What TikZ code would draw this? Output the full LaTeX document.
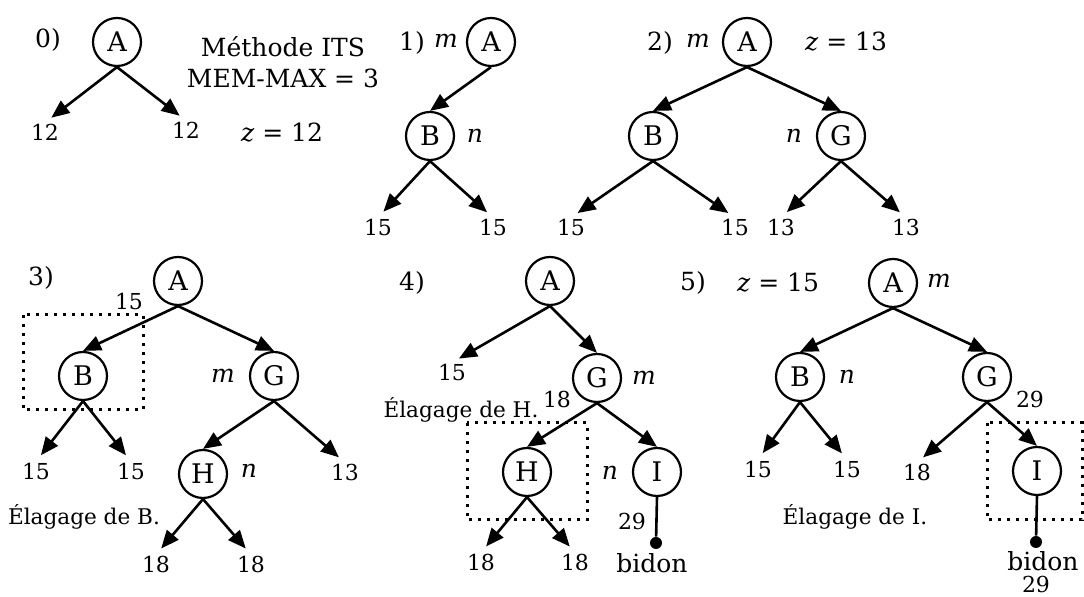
\documentclass[tikz,border=0pt]{standalone}
\usepackage{fontspec}
\setmainfont{DejaVu Serif}
\usetikzlibrary{arrows.meta}
\begin{document}
\begin{tikzpicture}[x=0.5pt,y=-0.5pt,
  st/.style={circle,draw,line width=1.1pt,minimum size=24pt,inner sep=0pt,font=\fontsize{13.5}{15}\selectfont},
  val/.style={inner sep=1pt,text height=8pt,text depth=0pt,font=\fontsize{11}{13}\selectfont},
  txt/.style={inner sep=1pt,font=\fontsize{12.5}{14}\selectfont},
  note/.style={inner sep=1pt,font=\fontsize{10.8}{12}\selectfont},
  arc/.style={-{Triangle[length=9pt,width=7.5pt]},line width=1.3pt,shorten >=4pt},
  sub/.style={-{Triangle[length=9pt,width=7.5pt]},line width=1.3pt},
  cut/.style={line width=1.5pt,dash pattern=on 1.5pt off 3pt},
  dot/.style={circle,fill,inner sep=0pt,minimum size=6pt}]
\useasboundingbox (0,0) rectangle (1084,597);
% 0) racine seule
\node[txt](p0) at (48,40) {0)};
\node[st](a0) at (117,42) {A};
\node[val](a0l) at (45,133) {12};
\node[val](a0r) at (186,131) {12};
\draw[arc](a0.south)--(a0l.north);
\draw[arc](a0.south)--(a0r.north);
\node[txt](its) at (283,47) {Méthode ITS};
\node[txt](mem) at (283,78) {MEM-MAX = 3};
\node[txt](z0) at (282,133) {\textit{z} = 12};
% 1)
\node[txt](p1) at (412,43) {1)};
\node[txt](m1) at (446,41) {\textit{m}};
\node[st](a1) at (491,42) {A};
\node[st](b1) at (430,136) {B};
\node[txt](n1) at (475,136) {\textit{n}};
\node[val](b1l) at (378,228) {15};
\node[val](b1r) at (493,228) {15};
\draw[sub](a1.south)--(b1.north);
\draw[arc](b1.south)--(b1l.north);
\draw[arc](b1.south)--(b1r.north);
% 2)
\node[txt](p2) at (660,43) {2)};
\node[txt](m2) at (698,41) {\textit{m}};
\node[st](a2) at (747,42) {A};
\node[txt](z2) at (846,42) {\textit{z} = 13};
\node[st](b2) at (653,136) {B};
\node[st](g2) at (841,136) {G};
\node[txt](n2) at (794,136) {\textit{n}};
\node[val](b2l) at (571,228) {15};
\node[val](b2r) at (735,228) {15};
\node[val](g2l) at (781,228) {13};
\node[val](g2r) at (906,228) {13};
\draw[sub](a2.south)--(b2.north);
\draw[sub](a2.south)--(g2.north);
\draw[arc](b2.south)--(b2l.north);
\draw[arc](b2.south)--(b2r.north);
\draw[arc](g2.south)--(g2l.north);
\draw[arc](g2.south)--(g2r.north);
% 3)
\node[txt](p3) at (41,278) {3)};
\node[st](a3) at (178,281) {A};
\node[val](v3) at (129,302) {15};
\draw[cut](23,315) rectangle (143,410);
\node[st](b3) at (83,376) {B};
\node[st](g3) at (274,376) {G};
\node[txt](m3) at (223,376) {\textit{m}};
\node[val](b3l) at (36,472) {15};
\node[val](b3r) at (131,472) {15};
\node[st](h3) at (203,474) {H};
\node[txt](n3) at (249,471) {\textit{n}};
\node[val](g3r) at (345,473) {13};
\node[note](e3) at (84,517) {Élagage de B.};
\node[val](h3l) at (156,565) {18};
\node[val](h3r) at (251,565) {18};
\draw[sub](a3.south)--(b3.north);
\draw[sub](a3.south)--(g3.north);
\draw[arc](b3.south)--(b3l.north);
\draw[arc](b3.south)--(b3r.north);
\draw[sub](g3.south)--(h3.north);
\draw[arc](g3.south)--(g3r.north);
\draw[arc](h3.south)--(h3l.north);
\draw[arc](h3.south)--(h3r.north);
% 4)
\node[txt](p4) at (412,283) {4)};
\node[st](a4) at (550,281) {A};
\node[val](a4l) at (452,373) {15};
\node[st](g4) at (597,378) {G};
\node[txt](m4) at (644,378) {\textit{m}};
\node[val](v4) at (557,400) {18};
\node[note](e4) at (461,410) {Élagage de H.};
\draw[cut](467,423) rectangle (587,520);
\node[st](h4) at (527,472) {H};
\node[txt](n4) at (610,473) {\textit{n}};
\node[st](i4) at (657,472) {I};
\node[val](h4l) at (481,563) {18};
\node[val](h4r) at (575,563) {18};
\node[val](w4) at (632,522) {29};
\node[dot](d4) at (656,543) {};
\node[txt](bd4) at (652,563) {bidon};
\draw[arc](a4.south)--(a4l.north);
\draw[sub](a4.south)--(g4.north);
\draw[sub](g4.south)--(h4.north);
\draw[sub](g4.south)--(i4.north);
\draw[arc](h4.south)--(h4l.north);
\draw[arc](h4.south)--(h4r.north);
\draw[line width=1.3pt](i4.south)--(d4);
% 5)
\node[txt](p5) at (693,283) {5)};
\node[txt](z5) at (778,283) {\textit{z} = 15};
\node[st](a5) at (893,283) {A};
\node[txt](m5) at (939,281) {\textit{m}};
\node[st](b5) at (800,377) {B};
\node[txt](n5) at (847,377) {\textit{n}};
\node[st](g5) at (987,377) {G};
\node[val](v5) at (1030,400) {29};
\node[val](b5l) at (758,470) {15};
\node[val](b5r) at (847,470) {15};
\node[val](g5l) at (917,473) {18};
\draw[cut](987,423) rectangle (1082,520);
\node[st](i5) at (1037,471) {I};
\node[note](e5) at (855,517) {Élagage de I.};
\node[dot](d5) at (1036,542) {};
\node[txt](bd5) at (1043,561) {bidon};
\node[val](w5) at (1036,585) {29};
\draw[sub](a5.south)--(b5.north);
\draw[sub](a5.south)--(g5.north);
\draw[arc](b5.south)--(b5l.north);
\draw[arc](b5.south)--(b5r.north);
\draw[arc](g5.south)--(g5l.north);
\draw[sub](g5.south)--(i5.north);
\draw[line width=1.3pt](i5.south)--(d5);
\end{tikzpicture}
\end{document}
